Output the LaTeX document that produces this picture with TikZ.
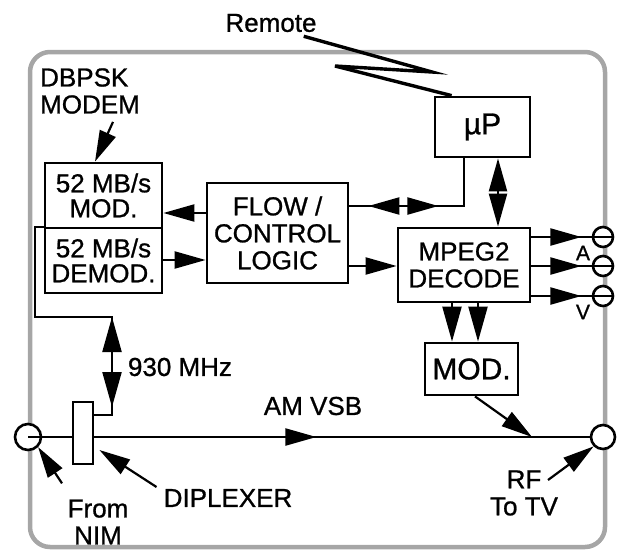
\documentclass[tikz,border=0pt]{standalone}
\usepackage{fontspec}
\setmainfont{Liberation Sans}[FakeBold=0.9]
\usetikzlibrary{arrows.meta,decorations.markings}

\tikzset{
  bigtip/.tip={Triangle[length=31pt,width=17pt]},
  longtip/.tip={Triangle[length=35pt,width=19pt]},
  blk/.style={draw,line width=2.8pt,fill=white,inner sep=0pt,align=center},
  port/.style={circle,draw,line width=2.6pt,fill=white,inner sep=0pt,minimum size=#1},
  wire/.style={line width=2.2pt},
  lbl/.style={inner sep=0pt,align=center},
  fwd/.style={postaction={decorate,decoration={markings,mark=at position #1 with {\arrow{bigtip}}}}},
  bwd/.style={postaction={decorate,decoration={markings,mark=at position #1 with {\arrowreversed{bigtip}}}}}
}

\begin{document}
\begin{tikzpicture}[x=1pt,y=-1pt,line join=miter,font=\fontsize{26}{27}\selectfont]
  \useasboundingbox (0,0) rectangle (617,554);
  \draw[draw=gray!70,line width=4.5pt,rounded corners=20pt] (30,52) rectangle (605,547);
  \node[blk,minimum width=117pt,minimum height=65pt,font=\fontsize{26}{25}\selectfont] (mod) at (103.5,195.5) {52 MB/s\\MOD.};
  \node[blk,minimum width=117pt,minimum height=65pt,font=\fontsize{26}{25}\selectfont] (demod) at (103.5,260.5) {52 MB/s\\DEMOD.};
  \node[blk,minimum width=141pt,minimum height=100pt] (flow) at (277.5,233) {FLOW /\\CONTROL\\LOGIC};
  \node[blk,minimum width=95pt,minimum height=60pt,font=\fontsize{30}{30}\selectfont] (mup) at (482.5,127) {µP};
  \node[blk,minimum width=132pt,minimum height=74pt] (dec) at (464,265) {MPEG2\\DECODE};
  \node[blk,minimum width=93pt,minimum height=52pt,font=\fontsize{30}{30}\selectfont] (tvmod) at (471.5,369) {MOD.};
  \node[blk,minimum width=20pt,minimum height=62pt] (dip) at (83,433) {};
  \node[port=26pt] (lc) at (28,437) {};
  \node[port=24pt] (rc) at (603,437) {};
  \node[port=20pt] (pa) at (603,237) {};
  \node[port=20pt] (pb) at (603,266) {};
  \node[port=20pt] (pc) at (603,296) {};
  \node[lbl] (rem) at (271,23) {Remote};
  \node[lbl,align=left] (lmod) at (90,91) {DBPSK\\MODEM};
  \node[lbl] (mhz) at (180,367) {930 MHz};
  \node[lbl] (vsb) at (313,406) {AM VSB};
  \node[lbl,font=\fontsize{21}{21}\selectfont] (la) at (583,253) {A};
  \node[lbl,font=\fontsize{21}{21}\selectfont] (lv) at (583,312) {V};
  \node[lbl] (nim) at (98,522) {From\\NIM};
  \node[lbl] (dipl) at (228,498) {DIPLEXER};
  \node[lbl] (rf) at (524,493) {RF\\To TV};
  \coordinate (rfin) at (532,437);
  \coordinate (brtop) at (112,317);
  \coordinate (brlow) at (112,407);
  \draw[line width=3.4pt] ([xshift=-13pt,yshift=-4pt]rem.south east) -- (432,72) -- (335,66) -- ([xshift=18pt]mup.north west);
  \draw[wire,-{bigtip}] (flow.west |- 0,213) -- (mod.east |- 0,213);
  \draw[wire,-{bigtip}] (demod.east |- 0,260) -- (flow.west |- 0,260);
  \draw[wire,-{bigtip}] (flow.east |- 0,266) -- (dec.west |- 0,266);
  \draw[wire,bwd=19pt,fwd=89pt] (flow.east |- 0,206) -| (mup.south -| 464,0);
  \draw[wire,{Triangle[length=33pt,width=18pt]}-{Triangle[length=33pt,width=18pt]}] (mup.south -| 498,0) -- (dec.north -| 498,0);
  \draw[wire,fwd=50pt] (dec.east |- pa) -- (pa.east);
  \draw[wire,fwd=50pt] (dec.east |- pb) -- (pb.east);
  \draw[wire,fwd=50pt] (dec.east |- pc) -- (pc.east);
  \draw[wire,-{longtip}] (dec.south -| 452,0) -- (tvmod.north -| 452,0);
  \draw[wire,-{longtip}] (dec.south -| 478,0) -- (tvmod.north -| 478,0);
  \draw[wire,-{bigtip}] (tvmod.south -| 475,0) -- (rfin);
  \draw[wire] (lc.center) -- (dip.west |- lc);
  \draw[wire,fwd=222pt] (dip.east |- lc) -- (rc.west);
  \draw[wire] (dip.east |- 0,415) -| (brtop) -| (demod.north west -| 35,0) -- (demod.north west);
  \draw[wire,{longtip}-{longtip}] (brtop) -- (brlow);
  \draw[wire,-{bigtip}] ([xshift=23pt,yshift=-8pt]lmod.south) -- (mod.north -| 95,0);
  \draw[wire,-{bigtip}] ([xshift=-36pt,yshift=16pt]nim.north) -- (lc.south east);
  \draw[wire,-{bigtip}] ([xshift=-7pt,yshift=11pt]dipl.west) -- ([xshift=5pt,yshift=-17pt]dip.east);
  \draw[wire,-{bigtip}] ([xshift=24pt,yshift=13pt]rf.center) -- (rc.south west);
\end{tikzpicture}
\end{document}
